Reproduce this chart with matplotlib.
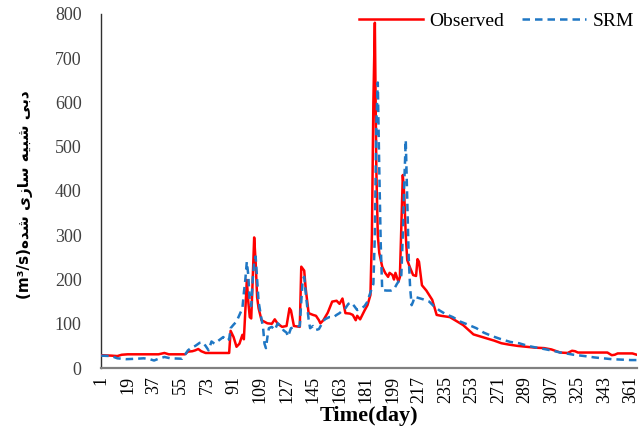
import numpy as np
import matplotlib
matplotlib.use('Agg')
import matplotlib.pyplot as plt

# Observed discharge at break points (day, m3/s)
obs_day = [1, 8, 12, 15, 19, 40, 44, 47, 58, 60, 63, 65, 67, 69, 72, 88, 89, 91, 93, 95,
           97, 98, 99, 100, 101, 102, 103, 104, 105, 106, 107, 108, 110, 114, 117, 119, 121, 124, 127, 129,
           130, 132, 136, 137, 139, 140, 142, 145, 147, 149, 150, 152, 155, 158, 161, 163, 165, 167, 170, 172,
           174, 175, 177, 180, 182, 184, 185, 186, 187, 188, 189, 190, 192, 194, 196, 197, 199, 200, 201, 203,
           204, 205, 206, 207, 208, 209, 211, 213, 215, 216, 217, 219, 222, 226, 229, 232, 238, 243, 247, 251,
           254, 258, 263, 268, 273, 278, 284, 290, 296, 302, 307, 313, 318, 321, 323, 325, 345, 348, 350, 352,
           362, 365]
obs_val = [29, 28, 27, 30, 31, 31, 34, 31, 31, 37, 38, 40, 43, 38, 34, 34, 84, 70, 48, 55,
           75, 65, 130, 199, 150, 115, 112, 200, 295, 240, 160, 135, 108, 101, 100, 110, 100, 93, 95, 135,
           130, 95, 93, 229, 220, 180, 124, 120, 118, 108, 101, 108, 125, 150, 152, 145, 157, 124, 123, 120,
           108, 118, 110, 130, 142, 165, 300, 600, 780, 450, 300, 260, 229, 215, 206, 215, 210, 200, 215, 195,
           205, 320, 436, 390, 300, 244, 226, 210, 208, 246, 240, 187, 175, 154, 120, 118, 115, 105, 97, 85,
           76, 72, 67, 62, 56, 53, 50, 48, 46, 45, 42, 35, 34, 39, 38, 35, 35, 29, 30, 33,
           33, 30]

# SRM simulated discharge (day, m3/s)
srm_day = [1, 8, 12, 18, 25, 30, 34, 37, 40, 44, 48, 56, 58, 60, 62, 65, 68, 70, 72, 74,
           76, 78, 80, 82, 84, 86, 88, 89, 91, 93, 95, 97, 98, 99, 100, 101, 102, 103, 104, 105,
           106, 107, 108, 110, 111, 112, 113, 114, 115, 117, 119, 121, 123, 125, 127, 128, 130, 133, 136, 137,
           138, 139, 140, 141, 142, 143, 145, 147, 149, 151, 153, 156, 159, 161, 163, 165, 167, 169, 171, 173,
           175, 178, 180, 182, 183, 185, 186, 187, 188, 189, 190, 191, 192, 195, 198, 200, 202, 204, 205, 206,
           207, 208, 209, 210, 211, 212, 213, 214, 217, 220, 224, 227, 231, 235, 240, 245, 251, 256, 261, 266,
           272, 279, 285, 291, 297, 302, 308, 313, 317, 322, 327, 332, 336, 342, 348, 355, 361, 365]
srm_val = [28, 27, 22, 20, 21, 22, 20, 17, 21, 25, 22, 21, 30, 40, 45, 50, 57, 58, 50, 40,
           60, 55, 60, 65, 70, 62, 65, 90, 98, 105, 120, 135, 170, 200, 240, 210, 150, 140, 200, 240,
           252, 200, 150, 110, 93, 55, 45, 70, 90, 93, 86, 101, 95, 85, 80, 71, 90, 93, 95, 150,
           200, 206, 170, 140, 110, 90, 95, 86, 88, 100, 110, 115, 115, 120, 124, 130, 135, 145, 148, 140,
           131, 135, 140, 150, 161, 180, 190, 300, 550, 645, 450, 280, 176, 175, 175, 178, 190, 200, 210, 300,
           420, 515, 380, 250, 180, 142, 150, 161, 158, 155, 150, 140, 130, 122, 115, 105, 97, 90, 80, 73,
           66, 59, 56, 50, 46, 43, 39, 35, 33, 30, 28, 26, 24, 22, 20, 19, 18, 18]

x_ticks = list(range(1, 362, 18))
y_ticks = list(range(0, 801, 100))

# Persian label in visual order (presentation forms), reads "discharge simulated (m3/s)"
fa_label = ('(m\u00b3/s)' + '\uFEE9\uFEAA\uFEB7' + ' ' + '\uFEEF\uFEAF\uFE8E\uFEB3' + ' '
            + '\uFEEA\uFEF4\uFE92\uFEB7' + ' ' + '\uFEF0\uFE91\uFEA9')

fig = plt.figure(figsize=(6.4, 4.34), dpi=100)
ax = fig.add_axes([0.158, 0.152, 0.837, 0.816])

ax.plot(obs_day, obs_val, color='#FF0000', lw=1.8, label='Observed', zorder=3)
ax.plot(srm_day, srm_val, color='#1F77C4', lw=1.8, dashes=(3, 2), label='SRM', zorder=4)

ax.set_xlim(1, 365)
ax.set_ylim(0, 800)
ax.set_xticks(x_ticks)
ax.set_yticks(y_ticks)
ax.set_xticklabels([str(t) for t in x_ticks], rotation=90, fontfamily='Liberation Serif',
                   fontsize=13, color='black')
ax.set_yticklabels([str(t) for t in y_ticks], fontfamily='Liberation Serif', fontsize=13,
                   color='#404040')
ax.tick_params(axis='both', length=0)
ax.tick_params(axis='y', pad=14)
ax.tick_params(axis='x', pad=6)

for s in ['top', 'right']:
    ax.spines[s].set_visible(False)
ax.spines['left'].set_color('#303030')
ax.spines['left'].set_linewidth(1.0)
ax.spines['bottom'].set_color('#808080')
ax.spines['bottom'].set_linewidth(1.6)

ax.set_xlabel('Time(day)', fontfamily='Liberation Serif', fontweight='bold', fontsize=16, labelpad=2)
ax.set_ylabel(fa_label, fontfamily=['DejaVu Sans'], fontweight='bold', fontsize=11)
ax.yaxis.set_label_coords(-0.128, 0.49)

ax.legend(loc='upper right', bbox_to_anchor=(1.028, 1.055), ncol=2, frameon=False,
          prop={'family': 'Liberation Serif', 'size': 14}, handlelength=3.3,
          columnspacing=0.9, handletextpad=0.35)

fig.savefig('out.png', dpi=100)
